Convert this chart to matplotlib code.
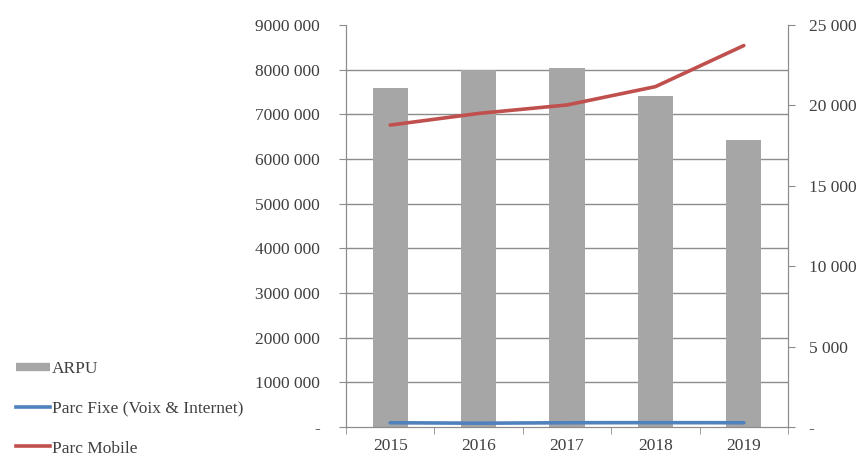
import numpy as np
import matplotlib.pyplot as plt
from matplotlib.lines import Line2D

years = ["2015", "2016", "2017", "2018", "2019"]
arpu = [21100, 22200, 22350, 20580, 17830]
parc_mobile = [6760000, 7020000, 7210000, 7620000, 8540000]
parc_fixe = [95000, 85000, 95000, 97000, 95000]

plt.rcParams["font.family"] = ["Liberation Serif", "DejaVu Serif"]
txt = "#404040"
gcol = "#8c8c8c"

fig = plt.figure(figsize=(8.61, 4.54), dpi=100)
ax = fig.add_axes([0.4019, 0.0595, 0.5133, 0.8854])
ax2 = ax.twinx()
x = np.arange(len(years))

# bars on the right axis, drawn underneath
ax2.bar(x, arpu, width=0.4, color="#a6a6a6", zorder=2)
ax2.set_ylim(0, 25000)
ax2.set_yticks([0, 5000, 10000, 15000, 20000, 25000])
ax2.set_yticklabels(["-", "5 000", "10 000", "15 000", "20 000", "25 000"])
ax2.set_yticks(np.arange(1, 10) * 25000 / 9, minor=True)
ax2.grid(which="minor", axis="y", color=gcol, lw=1, zorder=0)
ax2.tick_params(axis="y", which="minor", length=0)
ax2.set_axisbelow(True)

# lines on the left axis, drawn on top
ax.set_zorder(ax2.get_zorder() + 1)
ax.patch.set_visible(False)
ax.plot(x, parc_fixe, color="#4f81bd", lw=2.6, solid_capstyle="round")
ax.plot(x, parc_mobile, color="#c0504d", lw=2.6, solid_capstyle="round")
ax.set_ylim(0, 9000000)
yt = np.arange(0, 10) * 1000000
ax.set_yticks(yt)
ax.set_yticklabels(["-"] + [f"{v // 1000} 000" for v in yt[1:]])
ax.set_xlim(-0.5, len(years) - 0.5)
ax.set_xticks(x)
ax.set_xticklabels(years)
ax.set_xticks(np.arange(-0.5, len(years)), minor=True)
ax.tick_params(axis="x", which="major", length=0, pad=8)
ax.tick_params(axis="x", which="minor", length=5, color=gcol)

for a in (ax, ax2):
    a.spines["top"].set_visible(False)
    for s in ("left", "right", "bottom"):
        a.spines[s].set_color(gcol)
    a.tick_params(axis="y", which="major", length=5, color=gcol, labelsize=12.5, labelcolor=txt)
    a.tick_params(axis="x", labelsize=12.5, labelcolor=txt)
ax.tick_params(axis="y", pad=14)
ax2.tick_params(axis="y", pad=10)

handles = [Line2D([], [], color="#a6a6a6", lw=6, solid_capstyle="butt"),
           Line2D([], [], color="#4f81bd", lw=2.6),
           Line2D([], [], color="#c0504d", lw=2.6)]
labels = ["ARPU", "Parc Fixe (Voix & Internet)", "Parc Mobile"]
fig.legend(handles, labels, loc="lower left", bbox_to_anchor=(0.0, -0.04),
           frameon=False, fontsize=12.5, labelspacing=1.35, handlelength=2.0,
           handletextpad=0.1, borderpad=0.4, labelcolor=txt)

fig.savefig("out.png", dpi=100)
